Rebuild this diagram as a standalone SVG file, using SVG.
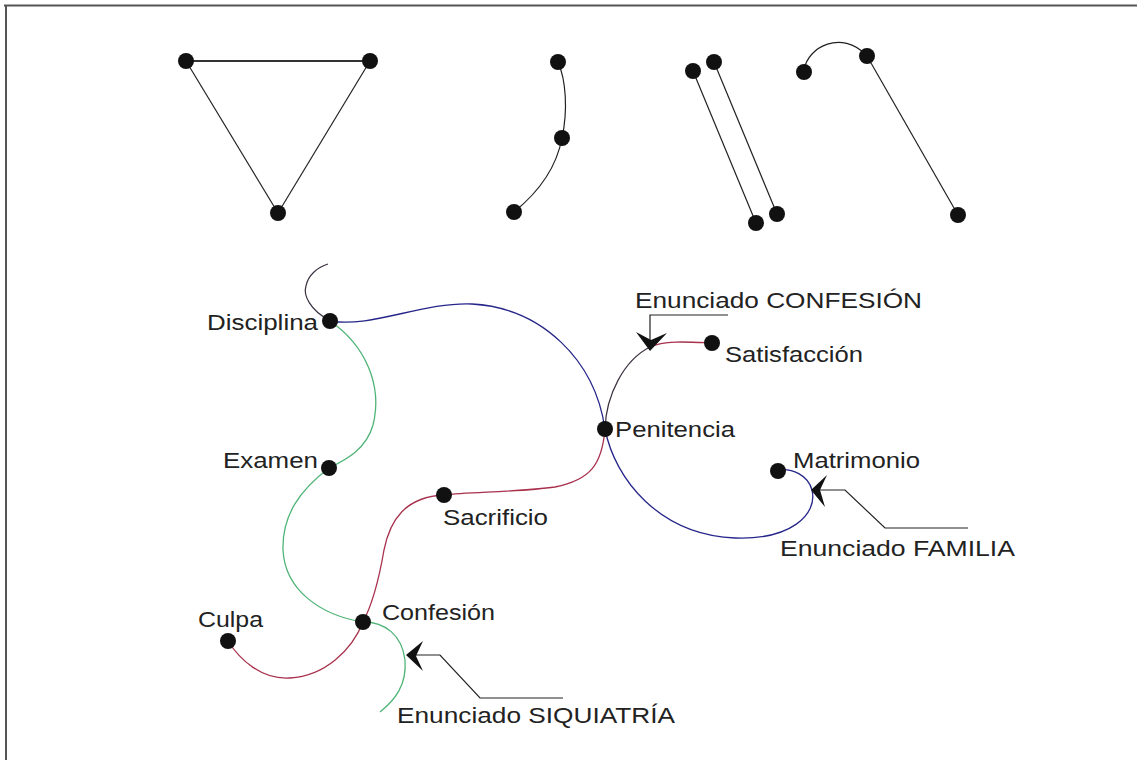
<svg xmlns="http://www.w3.org/2000/svg" width="1137" height="760" viewBox="0 0 1137 760">
<style>
.dot{fill:#111}
.ln{stroke:#222;stroke-width:1.2;fill:none}
.blue{stroke:#26268a;stroke-width:1.3;fill:none}
.red{stroke:#a8304c;stroke-width:1.3;fill:none}
.dark{stroke:#3a3040;stroke-width:1.2;fill:none}
.green{stroke:#4fb477;stroke-width:1.3;fill:none}
.lbl{font-family:"Liberation Sans",Arial,sans-serif;font-size:22px;fill:#222}
.ah{fill:#111}
</style>
<rect width="1137" height="760" fill="#fff"/>
<path d="M4,5.5 H1137 M6,5 V760" stroke="#555" stroke-width="2" fill="none"/>

<g id="fig-triangle">
<line x1="186" y1="61" x2="370" y2="61" stroke="#333" stroke-width="2"/>
<line x1="186" y1="61" x2="278" y2="213" class="ln"/>
<line x1="370" y1="61" x2="278" y2="213" class="ln"/>
<circle class="dot" cx="186" cy="61" r="8"/>
<circle class="dot" cx="370" cy="61" r="8"/>
<circle class="dot" cx="278" cy="213" r="8"/>
</g>
<g id="fig-arc">
<path class="ln" d="M558,62 C566,80 568,110 562,138 C556,170 535,195 514,212"/>
<circle class="dot" cx="558" cy="62" r="8"/>
<circle class="dot" cx="562" cy="138" r="8"/>
<circle class="dot" cx="514" cy="212" r="8"/>
</g>
<g id="fig-parallel">
<line class="ln" x1="693" y1="71" x2="756" y2="223"/>
<line class="ln" x1="714" y1="62" x2="777" y2="214"/>
<circle class="dot" cx="693" cy="71" r="8"/>
<circle class="dot" cx="714" cy="62" r="8"/>
<circle class="dot" cx="756" cy="223" r="8"/>
<circle class="dot" cx="777" cy="214" r="8"/>
</g>
<g id="fig-hook">
<path class="ln" d="M804,70 C808,46 842,30 866,55"/>
<line class="ln" x1="867" y1="56" x2="958" y2="215"/>
<circle class="dot" cx="804" cy="72" r="8"/>
<circle class="dot" cx="867" cy="56" r="8"/>
<circle class="dot" cx="958" cy="215" r="8"/>
</g>

<g id="connectors">
<path class="dark" d="M329,320 C310,310 303,295 306,286 C308,275 318,267 328,264"/>
<path class="blue" d="M330,321 C372,328 422,302 472,304 C542,308 595,360 605,429"/>
<path class="blue" d="M605,429 C615,480 660,535 735,538 C790,540 818,515 812,490 C808,475 792,468 778,470"/>
<path class="dark" d="M605,429 C606,395 624,360 650,347"/>
<path class="red" d="M650,347 C665,340 690,342 712,343"/>
<path class="red" d="M605,429 C602,465 590,480 555,487 C520,492 470,492 444,495"/>
<path class="red" d="M444,495 C405,497 390,520 384,550 C378,585 372,605 363,622 C352,650 325,676 290,678 C262,680 240,660 228,641"/>
<path class="green" d="M330,321 C365,345 383,385 373,425 C366,450 345,460 329,468"/>
<path class="green" d="M329,468 C300,490 282,515 283,550 C285,590 320,615 363,622"/>
<path class="green" d="M363,622 C385,622 402,635 405,660 C407,685 395,700 380,712"/>
</g>

<g id="node-disciplina"><circle class="dot" cx="330" cy="321" r="8"/><text class="lbl" x="207" y="330" textLength="111" lengthAdjust="spacingAndGlyphs">Disciplina</text></g>
<g id="node-examen"><circle class="dot" cx="329" cy="468" r="8"/><text class="lbl" x="223" y="468" textLength="95" lengthAdjust="spacingAndGlyphs">Examen</text></g>
<g id="node-penitencia"><circle class="dot" cx="605" cy="429" r="8"/><text class="lbl" x="615" y="437" textLength="120" lengthAdjust="spacingAndGlyphs">Penitencia</text></g>
<g id="node-satisfaccion"><circle class="dot" cx="712" cy="343" r="8"/><text class="lbl" x="725" y="362" textLength="138" lengthAdjust="spacingAndGlyphs">Satisfacción</text></g>
<g id="node-matrimonio"><circle class="dot" cx="778" cy="471" r="8"/><text class="lbl" x="793" y="468" textLength="127" lengthAdjust="spacingAndGlyphs">Matrimonio</text></g>
<g id="node-sacrificio"><circle class="dot" cx="444" cy="495" r="8"/><text class="lbl" x="443" y="525" textLength="105" lengthAdjust="spacingAndGlyphs">Sacrificio</text></g>
<g id="node-confesion"><circle class="dot" cx="363" cy="622" r="8"/><text class="lbl" x="382" y="620" textLength="113" lengthAdjust="spacingAndGlyphs">Confesión</text></g>
<g id="node-culpa"><circle class="dot" cx="228" cy="641" r="8"/><text class="lbl" x="198" y="627" textLength="65" lengthAdjust="spacingAndGlyphs">Culpa</text></g>

<g id="note-confesion">
<path class="ln" d="M728,315 H650 V343"/>
<polygon class="ah" points="650,351 636,332 651,340 667,333"/>
<text class="lbl" x="635" y="308" textLength="287" lengthAdjust="spacingAndGlyphs">Enunciado CONFESIÓN</text>
</g>
<g id="note-familia">
<path class="ln" d="M818,490 H845 L885,528 H968"/>
<polygon class="ah" points="811,490 827,475 820,490 825,507"/>
<text class="lbl" x="780" y="556" textLength="235" lengthAdjust="spacingAndGlyphs">Enunciado FAMILIA</text>
</g>
<g id="note-siquiatria">
<path class="ln" d="M413,655 H440 L480,698 H563"/>
<polygon class="ah" points="406,655 423,641 416,656 423,671"/>
<text class="lbl" x="397" y="723" textLength="278" lengthAdjust="spacingAndGlyphs">Enunciado SIQUIATRÍA</text>
</g>
</svg>
